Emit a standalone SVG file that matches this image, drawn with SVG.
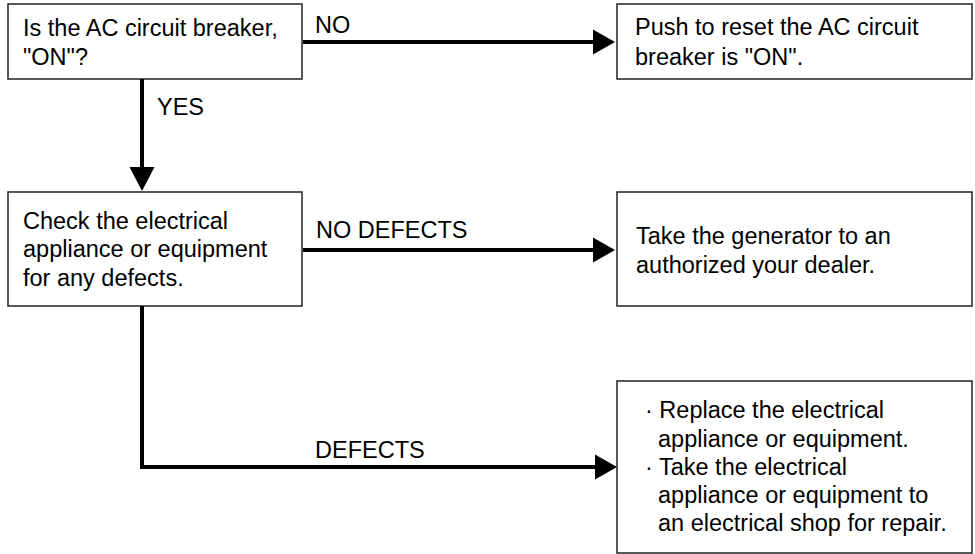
<svg xmlns="http://www.w3.org/2000/svg" width="975" height="554" viewBox="0 0 975 554">
<style>
.box{fill:#fff;stroke:#222;stroke-width:1.5}
.t{font-family:"Liberation Sans",Arial,sans-serif;font-size:23.5px;fill:#000}
.ln{fill:none;stroke:#000;stroke-width:4;stroke-linejoin:miter}
.ah{fill:#000;stroke:none}
</style>
<rect width="975" height="554" fill="#fff"/>
<g id="node-breaker">
<rect class="box" x="8" y="4" width="294" height="75"/>
<text class="t" x="23" y="36">Is the AC circuit breaker,</text>
<text class="t" x="23" y="65">"ON"?</text>
</g>
<g id="node-reset">
<rect class="box" x="617" y="4" width="355" height="75"/>
<text class="t" x="635" y="35">Push to reset the AC circuit</text>
<text class="t" x="635" y="65">breaker is "ON".</text>
</g>
<g id="node-check">
<rect class="box" x="8" y="192" width="294" height="114"/>
<text class="t" x="23" y="229">Check the electrical</text>
<text class="t" x="23" y="257">appliance or equipment</text>
<text class="t" x="23" y="285.5">for any defects.</text>
</g>
<g id="node-dealer">
<rect class="box" x="617" y="192" width="355" height="114"/>
<text class="t" x="636" y="244">Take the generator to an</text>
<text class="t" x="636" y="273">authorized your dealer.</text>
</g>
<g id="node-replace">
<rect class="box" x="617" y="381" width="355" height="172"/>
<text class="t" x="645" y="418">· Replace the electrical</text>
<text class="t" x="658" y="446.5">appliance or equipment.</text>
<text class="t" x="645" y="475">· Take the electrical</text>
<text class="t" x="658" y="503">appliance or equipment to</text>
<text class="t" x="658" y="531">an electrical shop for repair.</text>
</g>
<g id="connectors">
<path class="ln" d="M303 42 H595"/>
<polygon class="ah" points="593,29.5 615,42 593,54.5"/>
<text class="t" x="315" y="33">NO</text>
<path class="ln" d="M142 79 V169"/>
<polygon class="ah" points="129.5,167 142,191 154.5,167"/>
<text class="t" x="157" y="115">YES</text>
<path class="ln" d="M303 250 H595"/>
<polygon class="ah" points="593,237.5 615,250 593,262.5"/>
<text class="t" x="316" y="238">NO DEFECTS</text>
<path class="ln" d="M142 306 V467 H597"/>
<polygon class="ah" points="595,454.5 617,467 595,479.5"/>
<text class="t" x="315" y="458">DEFECTS</text>
</g>
</svg>
